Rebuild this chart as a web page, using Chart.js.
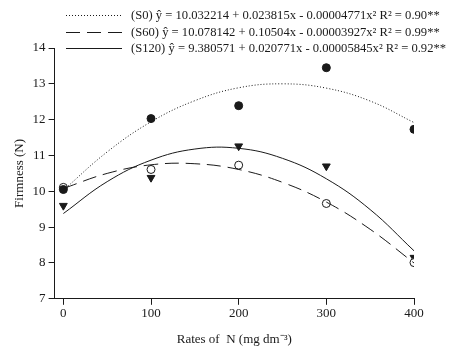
<!DOCTYPE html>
<html lang="en">
<head>
    <meta charset="UTF-8">
    <title>Firmness vs N rates</title>
    <script src="https://cdn.jsdelivr.net/npm/chart.js@4.4.1/dist/chart.umd.min.js"></script>
    <style>
        body {
            margin: 0;
            background: #ffffff;
        }
        .wrap {
            position: relative;
            width: 453px;
            height: 350px;
        }
    </style>
</head>
<body>

<div class="wrap">
    <canvas id="firmnessChart"></canvas>
</div>

<script>
    // --- DATA ---
    const rates = [0, 100, 200, 300, 400];
    const obsS0 = [10.05, 12.03, 12.39, 13.45, 11.73];
    const obsS60 = [10.11, 10.61, 10.73, 9.66, 8.01];
    const obsS120 = [9.60, 10.38, 11.26, 10.70, 8.15];

    // fitted curves, read every 50 units of N
    const curveRates = [0, 50, 100, 150, 200, 250, 300, 350, 400];
    const fitS0 = [10.03, 11.10, 11.94, 12.53, 12.89, 13.00, 12.88, 12.52, 11.92];
    const fitS60 = [10.08, 10.50, 10.74, 10.77, 10.61, 10.25, 9.70, 8.94, 8.00];
    const fitS120 = [9.38, 10.27, 10.87, 11.18, 11.20, 10.92, 10.35, 9.49, 8.34];

    const xTicks = [0, 100, 200, 300, 400];
    const yTicks = [7, 8, 9, 10, 11, 12, 13, 14];

    const legendLabels = [
        '(S0) \u0177 = 10.032214 + 0.023815x - 0.00004771x\u00B2 R\u00B2 = 0.90**',
        '(S60) \u0177 = 10.078142 + 0.10504x - 0.00003927x\u00B2 R\u00B2 = 0.99**',
        '(S120) \u0177 = 9.380571 + 0.020771x - 0.00005845x\u00B2 R\u00B2 = 0.92**'
    ];

    const SERIF = '"Liberation Serif", "Times New Roman", serif';
    const INK = '#1a1a1a';

    const pts = (xs, ys) => xs.map((x, i) => ({ x: x, y: ys[i] }));

    const curveStyle = (data, dash) => ({
        data: data,
        showLine: true,
        borderColor: INK,
        borderWidth: 1,
        borderDash: dash,
        pointRadius: 0,
        pointHoverRadius: 0,
        tension: 0.4,
        fill: false
    });

    // three-row legend on top: line sample then equation
    const equationLegend = {
        id: 'equationLegend',
        afterDraw(chart) {
            const ctx = chart.ctx;
            const dashes = [[1, 2], [14, 7], []];
            const rows = [15, 32, 48];
            ctx.save();
            ctx.strokeStyle = INK;
            ctx.lineWidth = 1;
            ctx.fillStyle = INK;
            ctx.font = '12.6px ' + SERIF;
            ctx.textBaseline = 'middle';
            rows.forEach((y, i) => {
                ctx.setLineDash(dashes[i]);
                ctx.beginPath();
                ctx.moveTo(66, y + 0.5);
                ctx.lineTo(122, y + 0.5);
                ctx.stroke();
                ctx.fillText(legendLabels[i], 131, y + 1);
            });
            ctx.restore();
        }
    };

    const ctx = document.getElementById('firmnessChart').getContext('2d');
    new Chart(ctx, {
        type: 'scatter',
        data: {
            datasets: [
                curveStyle(pts(curveRates, fitS0), [1, 2]),
                curveStyle(pts(curveRates, fitS60), [14, 7]),
                curveStyle(pts(curveRates, fitS120), []),
                {
                    data: pts(rates, obsS0),
                    pointStyle: 'circle',
                    pointRadius: 4,
                    backgroundColor: INK,
                    borderColor: INK,
                    borderWidth: 1
                },
                {
                    data: pts(rates, obsS60),
                    pointStyle: 'circle',
                    pointRadius: 4,
                    backgroundColor: '#ffffff',
                    borderColor: INK,
                    borderWidth: 1
                },
                {
                    data: pts(rates, obsS120),
                    pointStyle: 'triangle',
                    rotation: 180,
                    pointRadius: 4.5,
                    backgroundColor: INK,
                    borderColor: INK,
                    borderWidth: 1
                }
            ]
        },
        options: {
            responsive: true,
            maintainAspectRatio: false,
            animation: false,
            layout: {
                padding: { top: 48, right: 39, left: 12, bottom: 1 }
            },
            plugins: {
                legend: { display: false },
                tooltip: { enabled: false }
            },
            scales: {
                x: {
                    type: 'linear',
                    min: -10,
                    max: 400,
                    afterBuildTicks: (scale) => { scale.ticks = xTicks.map(v => ({ value: v })); },
                    grid: {
                        drawOnChartArea: false,
                        drawTicks: true,
                        tickLength: 6,
                        color: INK
                    },
                    border: { display: true, color: INK, width: 1 },
                    ticks: {
                        font: { size: 13, family: SERIF },
                        color: INK,
                        padding: 1
                    },
                    title: {
                        display: true,
                        text: 'Rates of  N (mg dm\u207B\u00B3)',
                        font: { size: 13, family: SERIF },
                        color: INK,
                        padding: { top: 9, bottom: 2 }
                    }
                },
                y: {
                    min: 7,
                    max: 14,
                    afterBuildTicks: (scale) => { scale.ticks = yTicks.map(v => ({ value: v })); },
                    grid: {
                        drawOnChartArea: false,
                        drawTicks: true,
                        tickLength: 6,
                        color: INK
                    },
                    border: { display: true, color: INK, width: 1 },
                    ticks: {
                        font: { size: 13, family: SERIF },
                        color: INK,
                        padding: 3
                    },
                    title: {
                        display: true,
                        text: 'Firmness (N)',
                        font: { size: 13, family: SERIF },
                        color: INK,
                        padding: { top: 0, bottom: 2 }
                    }
                }
            }
        },
        plugins: [equationLegend]
    });
</script>

</body>
</html>
